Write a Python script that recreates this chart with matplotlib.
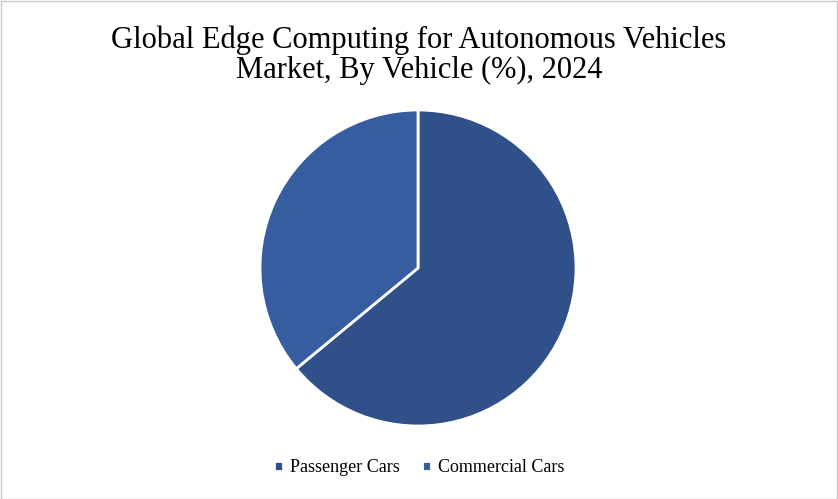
import matplotlib
matplotlib.use("Agg")
import matplotlib.pyplot as plt
from matplotlib.patches import Rectangle

categories = ["Passenger Cars", "Commercial Cars"]
values = [64, 36]
colors = ["#2F5089", "#365DA0"]

fig = plt.figure(figsize=(8.38, 4.99), dpi=100)
fig.patch.set_facecolor("white")
fig.patches.append(Rectangle((0.001, 0.001), 0.998, 0.997, transform=fig.transFigure,
                             fill=False, edgecolor="#C8C8C8", linewidth=1))
fig.text(0.5, 0.89, "Global Edge Computing for Autonomous Vehicles\nMarket, By Vehicle (%), 2024",
         ha="center", va="center", fontsize=22, family="Liberation Serif", linespacing=1.05)

r = 158
cx, cy = 418, 268
ax = fig.add_axes([(cx - r) / 838, (499 - cy - r) / 499, 2 * r / 838, 2 * r / 499])
wedges, _ = ax.pie(values, colors=colors, startangle=90, counterclock=False,
                   wedgeprops=dict(edgecolor="white", linewidth=2))
ax.set_xlim(-1, 1)
ax.set_ylim(-1, 1)
ax.set_aspect("equal")

fig.legend(wedges, categories, loc="center", bbox_to_anchor=(0.5, 0.063), ncol=2,
           frameon=False, handlelength=0.5, handleheight=0.5, handletextpad=0.4,
           columnspacing=1.2, prop={"family": "Liberation Serif", "size": 13})
fig.savefig("out.png", dpi=100)
